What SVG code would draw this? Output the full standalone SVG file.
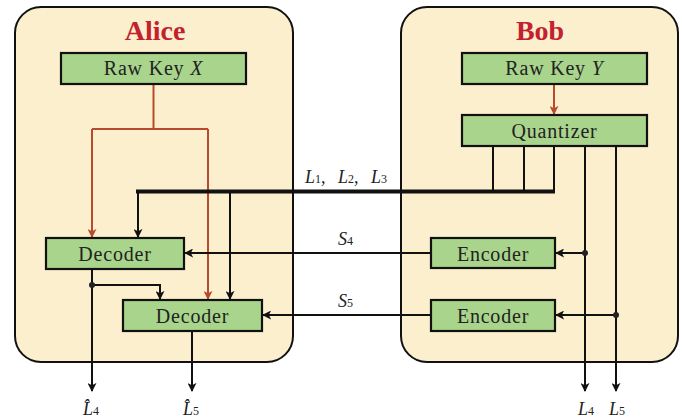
<svg xmlns="http://www.w3.org/2000/svg" width="682" height="420" viewBox="0 0 682 420">
  <style>
    .panel { fill: #fbefcd; stroke: #111; stroke-width: 2; }
    .box { fill: #a9d48c; stroke: #111; stroke-width: 2.2; }
    .title { font-family: "Liberation Serif", "Times New Roman", serif; font-weight: bold; font-size: 28px; fill: #c3212d; text-anchor: middle; }
    .lbl { font-family: "Liberation Serif", "Times New Roman", serif; font-size: 20px; fill: #222; text-anchor: middle; letter-spacing: 0.8px; }
    .var { font-family: "Liberation Serif", "Times New Roman", serif; font-size: 18px; fill: #222; font-style: italic; }
    .sub { font-style: normal; font-size: 12px; }
    .wire { fill: none; stroke: #111; stroke-width: 2; }
    .bus { fill: none; stroke: #111; stroke-width: 4; }
    .key { fill: none; stroke: #b84a2e; stroke-width: 2; }
    .dot { fill: #222; }
  </style>
  <defs>
    <marker id="ah" viewBox="0 0 10 10" refX="9" refY="5" markerWidth="9" markerHeight="9" markerUnits="userSpaceOnUse" orient="auto">
      <path d="M0,0 L10,5 L0,10 L2.5,5 z" fill="#111"/>
    </marker>
    <marker id="ahr" viewBox="0 0 10 10" refX="9" refY="5" markerWidth="9" markerHeight="9" markerUnits="userSpaceOnUse" orient="auto">
      <path d="M0,0 L10,5 L0,10 L2.5,5 z" fill="#b84a2e"/>
    </marker>
  </defs>

  <!-- party panels -->
  <g id="alice">
    <rect class="panel" x="15" y="7" width="278" height="355" rx="26"/>
    <text class="title" x="155" y="40">Alice</text>
  </g>
  <g id="bob">
    <rect class="panel" x="401" y="7" width="277" height="355" rx="26"/>
    <text class="title" x="540" y="40">Bob</text>
  </g>

  <!-- connectors -->
  <g id="connectors">
    <!-- raw key X split to both decoders -->
    <path class="key" d="M153.5,84 V129"/>
    <path class="key" d="M92,129 H208"/>
    <path class="key" d="M92,129 V237" marker-end="url(#ahr)"/>
    <path class="key" d="M208,129 V299" marker-end="url(#ahr)"/>
    <!-- raw key Y to quantizer -->
    <path class="key" d="M554,84 V114" marker-end="url(#ahr)"/>
    <!-- public messages L1..L3 -->
    <path class="wire" d="M493,146 V191"/>
    <path class="wire" d="M524,146 V191"/>
    <path class="wire" d="M554,146 V191"/>
    <path class="bus" d="M555,191.5 H136"/>
    <path class="wire" d="M138,191 V237" marker-end="url(#ah)"/>
    <path class="wire" d="M230,191 V299" marker-end="url(#ah)"/>
    <!-- L4, L5 outputs of quantizer -->
    <path class="wire" d="M585,146 V391" marker-end="url(#ah)"/>
    <path class="wire" d="M616,146 V391" marker-end="url(#ah)"/>
    <path class="wire" d="M585,253 H556" marker-end="url(#ah)"/>
    <path class="wire" d="M616,315 H556" marker-end="url(#ah)"/>
    <circle class="dot" cx="585" cy="253" r="3"/>
    <circle class="dot" cx="616" cy="315" r="3"/>
    <!-- syndromes S4, S5 -->
    <path class="wire" d="M431,253 H185" marker-end="url(#ah)"/>
    <path class="wire" d="M431,315 H263" marker-end="url(#ah)"/>
    <!-- decoder outputs -->
    <path class="wire" d="M92,269 V391" marker-end="url(#ah)"/>
    <path class="wire" d="M92,285 H160 V299" marker-end="url(#ah)"/>
    <circle class="dot" cx="92" cy="285" r="3"/>
    <path class="wire" d="M192,331 V391" marker-end="url(#ah)"/>

    <text class="var" x="305" y="183">L<tspan class="sub">1</tspan>,</text>
    <text class="var" x="338" y="183">L<tspan class="sub">2</tspan>,</text>
    <text class="var" x="371" y="183">L<tspan class="sub">3</tspan></text>
    <text class="var" x="338" y="245">S<tspan class="sub">4</tspan></text>
    <text class="var" x="338" y="307">S<tspan class="sub">5</tspan></text>
    <text class="var" x="83" y="415">L̂<tspan class="sub">4</tspan></text>
    <text class="var" x="183" y="415">L̂<tspan class="sub">5</tspan></text>
    <text class="var" x="578" y="415">L<tspan class="sub">4</tspan></text>
    <text class="var" x="609" y="415">L<tspan class="sub">5</tspan></text>
  </g>

  <!-- nodes -->
  <g id="rawkey-x">
    <rect class="box" x="61" y="53" width="185" height="31"/>
    <text class="lbl" x="153.5" y="75">Raw Key <tspan font-style="italic">X</tspan></text>
  </g>
  <g id="rawkey-y">
    <rect class="box" x="462" y="53" width="185" height="31"/>
    <text class="lbl" x="554.5" y="75">Raw Key <tspan font-style="italic">Y</tspan></text>
  </g>
  <g id="quantizer">
    <rect class="box" x="462" y="115" width="185" height="31"/>
    <text class="lbl" x="554.5" y="138">Quantizer</text>
  </g>
  <g id="decoder-1">
    <rect class="box" x="46" y="238" width="138" height="31"/>
    <text class="lbl" x="115" y="261">Decoder</text>
  </g>
  <g id="decoder-2">
    <rect class="box" x="123" y="300" width="139" height="31"/>
    <text class="lbl" x="192.5" y="323">Decoder</text>
  </g>
  <g id="encoder-1">
    <rect class="box" x="431" y="238" width="124" height="30"/>
    <text class="lbl" x="493" y="261">Encoder</text>
  </g>
  <g id="encoder-2">
    <rect class="box" x="431" y="300" width="124" height="31"/>
    <text class="lbl" x="493" y="323">Encoder</text>
  </g>
</svg>
